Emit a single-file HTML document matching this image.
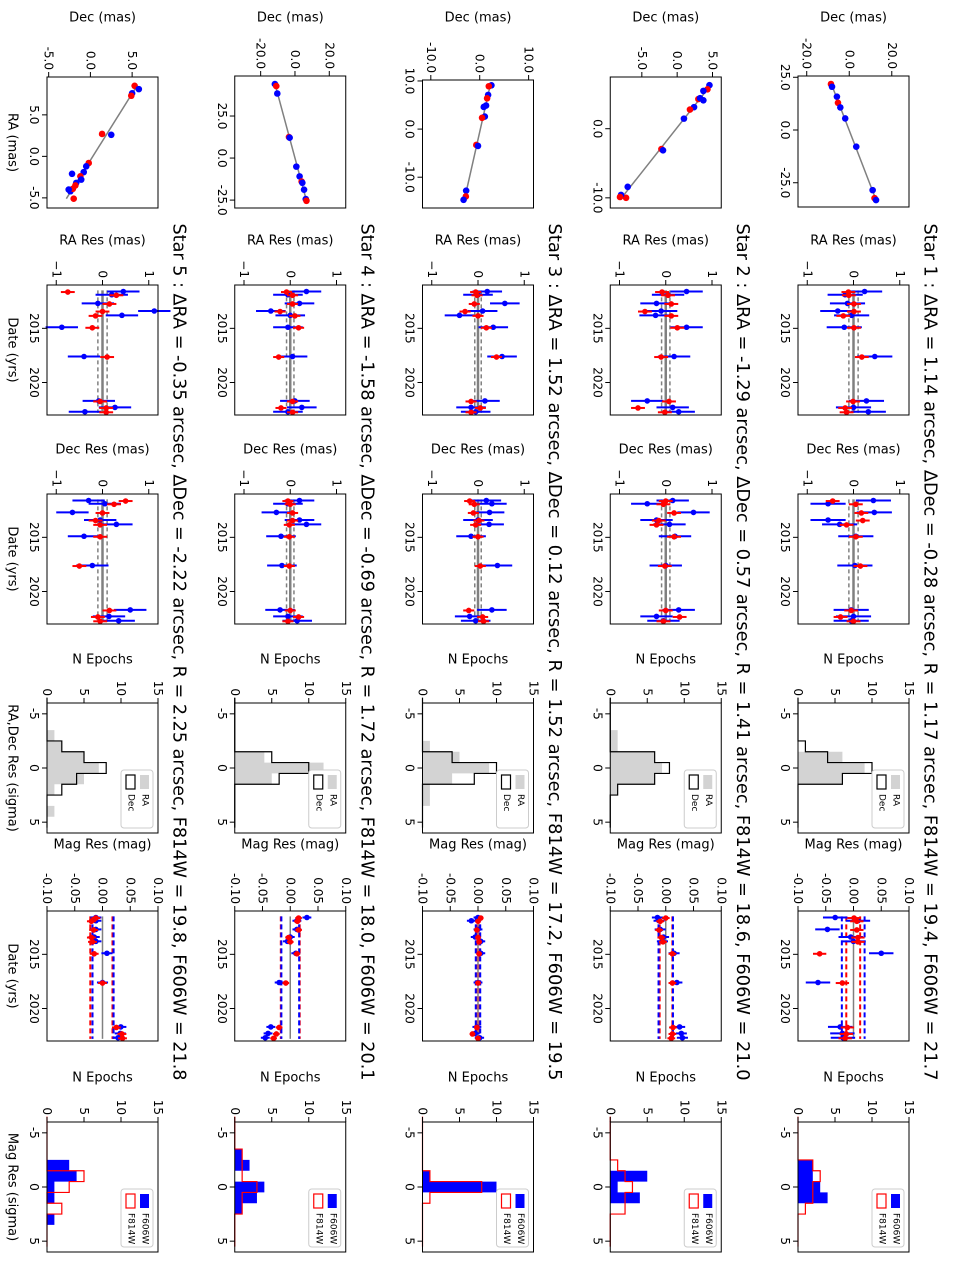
<!DOCTYPE html>
<html><head><meta charset="utf-8">
<style>
body{margin:0;background:#fff}
svg{display:block;font-family:"DejaVu Sans","Liberation Sans",sans-serif}
</style></head>
<body>
<svg id="fig" width="957" height="1276" viewBox="0 0 957 1276">
<rect width="957" height="1276" fill="#fff"/>
<g id="root" transform="translate(957,0) rotate(90)"></g>
</svg>
<script>
// ---------- shared data ----------
const epochs = [2011.6, 2011.9, 2012.7, 2013.4, 2013.8, 2014.9, 2017.6, 2021.7, 2022.3, 2022.7];
const histCenters = [-6,-5,-4,-3,-2,-1,0,1,2,3,4,5];
const titles = [
 "Star 1 : \u0394RA = 1.14 arcsec, \u0394Dec = -0.28 arcsec, R = 1.17 arcsec, F814W = 19.4, F606W = 21.7",
 "Star 2 : \u0394RA = -1.29 arcsec, \u0394Dec = 0.57 arcsec, R = 1.41 arcsec, F814W = 18.6, F606W = 21.0",
 "Star 3 : \u0394RA = 1.52 arcsec, \u0394Dec = 0.12 arcsec, R = 1.52 arcsec, F814W = 17.2, F606W = 19.5",
 "Star 4 : \u0394RA = -1.58 arcsec, \u0394Dec = -0.69 arcsec, R = 1.72 arcsec, F814W = 18.0, F606W = 20.1",
 "Star 5 : \u0394RA = -0.35 arcsec, \u0394Dec = -2.22 arcsec, R = 2.25 arcsec, F814W = 19.8, F606W = 21.8"
];
// ---------- star 1 ----------
const s1PosRa  = [21.8,20.5,15.8,12.9,10.7,5.5,-7.9,-28.5,-32.3,-33.2];
const s1PosDec = [-8.6,-8.1,-5.8,-5.3,-4.2,-1.9,3.3,11.0,11.9,12.6];
const s1PosCol = ['r','b','b','r','b','b','b','b','r','b'];
const s1RaLim = [25.6,-36.5], s1DecLim = [-24.1,28.1];
const s1RaTicks = [25,0,-25], s1DecTicks = [-20,0,20];
const s1RaResB = [0.24,-0.18,-0.13,-0.34,-0.04,-0.2,0.46,0.28,0.0,0.32];
const s1RaResR = [-0.11,-0.1,0.01,0.01,-0.22,0.01,0.18,-0.01,-0.18,-0.15];
const s1DecResB = [0.43,-0.55,0.45,-0.55,-0.3,0.05,0.03,-0.05,0.0,-0.05];
const s1DecResR = [-0.45,0.05,0.17,0.2,-0.15,0.05,0.15,-0.05,-0.28,0.0];
const s1HistRa  = [0,0,0,0,0,6,9,6,0,0,0,0];
const s1HistDec = [0,0,0,0,1,4,10,6,0,0,0,0];
const s1MagB = [-0.033,0.008,-0.047,-0.005,0.0,0.05,-0.064,-0.024,-0.02,-0.019];
const s1MagR = [0.001,0.006,0.006,0.008,0.008,-0.061,-0.02,-0.011,-0.013,-0.015];
const s1MagBandB = [-0.021,0.02], s1MagBandR = [-0.013,0.012];
const s1MagHistB = [0,0,0,0,2,2,3,4,0,0,0,0];
const s1MagHistR = [0,0,0,0,2,3,2,2,1,0,0,0];
// ---------- star 2 ----------
const s2PosRa  = [6.3,5.7,5.47,4.29,4.41,4.11,3.12,2.77,1.46,-2.94,-3.12,-8.41,-10.0,-9.58,-9.88];
const s2PosDec = [4.57,4.29,3.71,3.0,3.24,3.71,2.39,1.81,0.96,-2.23,-2.0,-7.0,-7.23,-7.94,-8.09];
const s2PosCol = ['b','r','b','r','b','b','b','r','b','r','b','b','r','b','r'];
const s2RaLim = [7.48,-11.47], s2DecLim = [-9.47,6.24];
const s2RaTicks = [0,-10], s2DecTicks = [-5,0,5];
const s2RaResB = [0.45,0.05,-0.2,-0.1,-0.22,0.45,0.18,-0.4,0.15,0.28];
const s2RaResR = [-0.08,0.05,0.12,-0.45,0.12,0.25,-0.1,0.07,-0.6,-0.02];
const s2DecResB = [0.15,-0.4,0.6,-0.2,0.08,0.2,0.0,0.28,-0.2,-0.05];
const s2DecResR = [0.0,-0.05,0.18,-0.15,-0.2,0.18,-0.02,0.0,0.3,-0.05];
const s2HistRa  = [0,0,0,1,1,6,7,6,1,0,0,0];
const s2HistDec = [0,0,0,0,0,6,8,6,1,0,0,0];
const s2MagB = [-0.015,-0.012,-0.01,-0.004,-0.006,0.015,0.02,0.025,0.028,0.03];
const s2MagR = [0.0,-0.01,-0.012,-0.008,-0.005,0.012,0.012,0.013,0.012,0.01];
const s2MagBandB = [-0.013,0.013], s2MagBandR = [-0.011,0.012];
const s2MagHistB = [0,0,0,0,0,5,1,4,0,0,0,0];
const s2MagHistR = [0,0,0,0,1,2,3,2,2,0,0,0];
// ---------- star 3 ----------
const s3PosRa  = [9.1,8.9,7.1,6.4,4.9,4.6,2.6,2.35,-3.3,-3.5,-12.8,-14.0,-14.7];
const s3PosDec = [2.4,1.86,1.72,1.51,1.3,0.83,1.04,0.48,-0.7,-0.35,-2.77,-2.84,-3.3];
const s3PosCol = ['b','r','b','r','b','b','b','r','r','b','b','r','b'];
const s3RaLim = [10.2,-16.4], s3DecLim = [-11.7,11.0];
const s3RaTicks = [10,0,-10], s3DecTicks = [-10,0,10];
const s3RaResB = [0.2,0.0,0.58,0.1,-0.4,0.33,0.52,0.15,-0.15,-0.05];
const s3RaResR = [-0.05,-0.02,-0.08,-0.28,0.0,0.18,0.4,-0.15,0.05,-0.15];
const s3DecResB = [0.18,0.3,0.25,0.0,0.24,-0.15,0.42,0.3,-0.18,-0.05];
const s3DecResR = [-0.18,-0.08,-0.1,0.02,-0.05,0.0,0.05,-0.2,0.1,0.12];
const s3HistRa  = [0,0,0,0,1,5,9,4,1,1,0,0];
const s3HistDec = [0,0,0,0,0,4,10,7,0,0,0,0];
const s3MagB = [0.0,-0.012,0.0,-0.005,0.005,0.005,0.0,-0.002,-0.005,0.003];
const s3MagR = [0.005,0.0,-0.002,0.0,0.002,0.002,0.0,-0.002,-0.01,0.0];
const s3MagBandB = [-0.004,0.004], s3MagBandR = [-0.003,0.003];
const s3MagHistB = [0,0,0,0,0,1,10,0,0,0,0,0];
const s3MagHistR = [0,0,0,0,0,1,8,1,0,0,0,0];
// ---------- star 4 ----------
const s4PosRa  = [44,42.8,38.4,12.5,12.1,-5.1,-10.9,-14,-14.7,-18.8,-24.4,-25.4];
const s4PosDec = [-11.7,-10.9,-10.3,-3.5,-3.1,0.8,2.7,3.9,4.3,5.3,6.3,6.7];
const s4PosCol = ['b','r','b','r','b','b','b','r','b','b','b','r'];
const s4RaLim = [48.8,-29.7], s4DecLim = [-35.1,29.6];
const s4RaTicks = [25,0,-25], s4DecTicks = [-20,0,20];
const s4RaResB = [0.35,-0.05,0.2,-0.42,0.0,-0.05,0.05,0.1,0.25,-0.05];
const s4RaResR = [-0.08,0.05,0.05,-0.22,0.1,0.18,-0.25,0.05,-0.2,0.05];
const s4DecResB = [0.2,-0.05,-0.3,0.2,0.35,-0.2,-0.18,-0.22,-0.05,0.15];
const s4DecResR = [-0.05,0.0,0.05,0.05,-0.02,-0.02,-0.02,0.0,0.18,-0.05];
const s4HistRa  = [0,0,0,0,0,4,12,5,0,0,0,0];
const s4HistDec = [0,0,0,0,0,5,10,6,0,0,0,0];
const s4MagB = [0.03,0.012,0.012,0.0,-0.005,0.01,-0.02,-0.035,-0.04,-0.045];
const s4MagR = [0.015,0.013,0.015,-0.003,0.0,0.012,-0.008,-0.02,-0.025,-0.03];
const s4MagBandB = [-0.016,0.016], s4MagBandR = [-0.017,0.017];
const s4MagHistB = [0,0,0,1,2,0,4,3,1,0,0,0];
const s4MagHistR = [0,0,0,1,1,1,3,1,1,0,0,0];
// ---------- star 5 ----------
const s5PosRa  = [8.5,8.1,7.6,7.3,2.7,2.6,-0.8,-1.2,-1.9,-2.4,-2.8,-3.2,-2.1,-3.5,-4.2,-3.9,-4.0,-5.1];
const s5PosDec = [5.3,5.8,5.0,4.9,1.4,2.5,-0.2,-0.5,-0.8,-1.2,-1.1,-1.7,-2.2,-1.8,-2.4,-2.1,-2.6,-2.0];
const s5PosCol = ['r','b','b','r','r','b','r','b','b','r','b','b','b','r','b','r','b','r'];
const s5RaLim = [9.56,-6.22], s5DecLim = [-5.2,8.1];
const s5RaTicks = [5,0,-5], s5DecTicks = [-5,0,5];
const s5RaResB = [0.45,0.2,-0.1,1.12,0.42,-0.88,-0.4,-0.08,0.27,-0.38];
const s5RaResR = [-0.75,0.3,0.15,0.0,-0.15,-0.22,0.1,-0.05,0.08,0.08];
const s5DecResB = [-0.3,0.05,-0.65,-0.05,0.3,-0.4,-0.22,0.6,0.14,0.35];
const s5DecResR = [0.5,0.25,0.0,-0.15,-0.05,-0.05,-0.5,0.15,-0.1,-0.05];
const s5HistRa  = [0,0,0,1,2,5,7,5,1,0,1,0];
const s5HistDec = [0,0,0,0,2,5,8,4,2,0,0,0];
const s5MagB = [-0.012,-0.012,-0.012,-0.015,-0.012,0.008,0.0,0.033,0.032,0.028];
const s5MagR = [-0.012,-0.02,-0.016,-0.02,-0.018,-0.015,0.0,0.025,0.035,0.036];
const s5MagBandB = [-0.018,0.02], s5MagBandR = [-0.022,0.018];
const s5MagHistB = [0,0,0,0,3,4,1,1,0,1,0,0];
const s5MagHistR = [0,0,0,0,0,5,3,0,2,0,0,0];
// error sizes per star
const resErrB = [0.38,0.35,0.32,0.32,0.35];
const resErrR = [0.15,0.15,0.12,0.12,0.15];
const magErrB = [0.022,0.01,0.008,0.008,0.01];
const magErrR = [0.012,0.007,0.005,0.006,0.008];
const resBand = [0.1,0.09,0.07,0.08,0.1];

const S = [
 {pr:s1PosRa,pd:s1PosDec,pc:s1PosCol,rl:s1RaLim,dl:s1DecLim,rt:s1RaTicks,dt:s1DecTicks,rb:s1RaResB,rr:s1RaResR,db:s1DecResB,dr:s1DecResR,ha:s1HistRa,hd:s1HistDec,mb:s1MagB,mr:s1MagR,bb:s1MagBandB,br:s1MagBandR,hb:s1MagHistB,hr:s1MagHistR},
 {pr:s2PosRa,pd:s2PosDec,pc:s2PosCol,rl:s2RaLim,dl:s2DecLim,rt:s2RaTicks,dt:s2DecTicks,rb:s2RaResB,rr:s2RaResR,db:s2DecResB,dr:s2DecResR,ha:s2HistRa,hd:s2HistDec,mb:s2MagB,mr:s2MagR,bb:s2MagBandB,br:s2MagBandR,hb:s2MagHistB,hr:s2MagHistR},
 {pr:s3PosRa,pd:s3PosDec,pc:s3PosCol,rl:s3RaLim,dl:s3DecLim,rt:s3RaTicks,dt:s3DecTicks,rb:s3RaResB,rr:s3RaResR,db:s3DecResB,dr:s3DecResR,ha:s3HistRa,hd:s3HistDec,mb:s3MagB,mr:s3MagR,bb:s3MagBandB,br:s3MagBandR,hb:s3MagHistB,hr:s3MagHistR},
 {pr:s4PosRa,pd:s4PosDec,pc:s4PosCol,rl:s4RaLim,dl:s4DecLim,rt:s4RaTicks,dt:s4DecTicks,rb:s4RaResB,rr:s4RaResR,db:s4DecResB,dr:s4DecResR,ha:s4HistRa,hd:s4HistDec,mb:s4MagB,mr:s4MagR,bb:s4MagBandB,br:s4MagBandR,hb:s4MagHistB,hr:s4MagHistR},
 {pr:s5PosRa,pd:s5PosDec,pc:s5PosCol,rl:s5RaLim,dl:s5DecLim,rt:s5RaTicks,dt:s5DecTicks,rb:s5RaResB,rr:s5RaResR,db:s5DecResB,dr:s5DecResR,ha:s5HistRa,hd:s5HistDec,mb:s5MagB,mr:s5MagR,bb:s5MagBandB,br:s5MagBandR,hb:s5MagHistB,hr:s5MagHistR}
];

// ---------- layout (not data) ----------
const P1U = [[76,207],[77,208],[80,208],[76,208],[77,208]];
const PU = {ra:[285,415], dec:[494,624], hist:[703,833], mag:[911,1041], mhist:[1122,1252]};
const DATE_LIM = [2011, 2023], RES_LIM = [-1.2, 1.2], HIST_X = [-6, 6], HIST_Y = [0, 15], MAG_LIM = [-0.1, 0.1];
const BLUE = '#0000ff', RED = '#ff0000';

const NS = 'http://www.w3.org/2000/svg';
const root = document.getElementById('root');
function mk(tag, parent){ const e = document.createElementNS(NS, tag); parent.appendChild(e); return e; }
function at(e, o){ for (const k in o) e.setAttribute(k, o[k]); return e; }
function txt(parent, x, y, s, size, anchor, rot){
  const t = mk('text', parent);
  at(t, {x:x, y:y, 'font-size':size, 'text-anchor':anchor||'middle', 'dominant-baseline':'central', fill:'#000'});
  if (rot) t.setAttribute('transform', 'rotate(' + rot + ' ' + x + ' ' + y + ')');
  t.textContent = s;
  return t;
}
function axes(u0,u1,v0,v1,xl,yl){
  return {
    x: v => u0 + (v - xl[0]) / (xl[1] - xl[0]) * (u1 - u0),
    y: v => v1 - (v - yl[0]) / (yl[1] - yl[0]) * (v1 - v0)
  };
}
function frame(g,u0,u1,v0,v1){
  const r = mk('rect', g);
  at(r, {x:u0, y:v0, width:u1-u0, height:v1-v0, fill:'none', stroke:'#000', 'stroke-width':1});
  
  
}
function xticks(g, ax, vals, labs, v1){
  vals.forEach((v,i) => {
    const x = ax.x(v);
    const l = mk('line', g);
    at(l, {x1:x, x2:x, y1:v1, y2:v1+5, stroke:'#000', 'stroke-width':1});
    
    
    const t = txt(g, x, v1+13, labs[i], 12);
    
    
  });
}
function yticks(g, ax, vals, labs, u0){
  vals.forEach((v,i) => {
    const y = ax.y(v);
    const l = mk('line', g);
    at(l, {x1:u0-5, x2:u0, y1:y, y2:y, stroke:'#000', 'stroke-width':1});
    
    
    const t = txt(g, u0-7, y, labs[i], 12, 'end');
    
    
  });
}
function ylabel(g, u, v, s){
  const t = txt(g, u, v, s, 13, 'middle', -90);
  
  
}
function xlabel(g, u, v, s){
  const t = txt(g, u, v, s, 13, 'middle');
  
  
}
function errPoint(g, ax, xv, yv, err, col, name){
  const l = mk('line', g);
  at(l, {x1:ax.x(xv), x2:ax.x(xv), y1:ax.y(yv-err), y2:ax.y(yv+err), stroke:col, 'stroke-width':2});
  
  
  const c = mk('circle', g);
  at(c, {cx:ax.x(xv), cy:ax.y(yv), r:2.8, fill:col});
  
  
}
function hline(g, ax, x0, x1, yv, col, w, dash, name){
  const l = mk('line', g);
  at(l, {x1:ax.x(x0), x2:ax.x(x1), y1:ax.y(yv), y2:ax.y(yv), stroke:col, 'stroke-width':w});
  if (dash) l.setAttribute('stroke-dasharray', dash);
  
  
}
function histPath(ax, counts){
  let d = 'M' + ax.x(histCenters[0]-0.5) + ' ' + ax.y(0);
  counts.forEach((c,i) => {
    d += ' L' + ax.x(histCenters[i]-0.5) + ' ' + ax.y(c) + ' L' + ax.x(histCenters[i]+0.5) + ' ' + ax.y(c);
  });
  d += ' L' + ax.x(histCenters[histCenters.length-1]+0.5) + ' ' + ax.y(0);
  return d;
}
function legend(g, u0, v0, labs, kinds){
  const b = mk('rect', g);
  at(b, {x:u0+67, y:v0+5, width:58, height:32, rx:3, fill:'#fff', stroke:'#ccc', 'stroke-width':1});
  
  
  labs.forEach((s,i) => {
    const vy = v0 + 9 + i*14;
    const r = mk('rect', g);
    if (kinds[i] === 'grayfill') at(r, {x:u0+72, y:vy, width:14, height:9, fill:'#d3d3d3'});
    else if (kinds[i] === 'blackline') at(r, {x:u0+72, y:vy, width:14, height:9, fill:'none', stroke:'#000', 'stroke-width':1.2});
    else if (kinds[i] === 'bluefill') at(r, {x:u0+72, y:vy, width:14, height:9, fill:BLUE});
    else at(r, {x:u0+72, y:vy, width:14, height:9, fill:'none', stroke:RED, 'stroke-width':1.2});
    
    
    const t = txt(g, u0+91, vy+4.5, s, 9, 'start');
    
    
  });
}
function fmt1(v){ return v.toFixed(1); }
function fmtRes(v){ return v < 0 ? '\u2212' + Math.abs(v) : String(v); }

S.forEach((s, k) => {
  const g = mk('g', root);
  
  
  const v0 = 48 + 187.75*k, v1 = v0 + 111, vm = (v0+v1)/2;
  const last = (k === 4);

  const tt = txt(g, 652, 27 + 187.75*k, titles[k], 18, 'middle');
  tt.setAttribute('textLength', 857);
  tt.setAttribute('lengthAdjust', 'spacingAndGlyphs');
  
  

  // ---- panel 1: sky positions ----
  {
    const pg = mk('g', g);
    
    
    const [u0,u1] = P1U[k];
    const ax = axes(u0,u1,v0,v1,s.rl,s.dl);
    // least-squares line
    const n = s.pr.length; let mx=0,my=0; s.pr.forEach((x,i)=>{mx+=x;my+=s.pd[i];}); mx/=n; my/=n;
    let sxy=0,sxx=0; s.pr.forEach((x,i)=>{sxy+=(x-mx)*(s.pd[i]-my); sxx+=(x-mx)*(x-mx);});
    const sl = sxy/sxx, xa = Math.max(...s.pr), xb = Math.min(...s.pr);
    const l = mk('line', pg);
    at(l, {x1:ax.x(xa), y1:ax.y(my+sl*(xa-mx)), x2:ax.x(xb), y2:ax.y(my+sl*(xb-mx)), stroke:'#808080', 'stroke-width':1.5});
    
    
    s.pr.forEach((ra,i) => {
      const c = mk('circle', pg);
      at(c, {cx:ax.x(ra), cy:ax.y(s.pd[i]), r:3.3, fill: s.pc[i]==='b'?BLUE:RED});
      
      
    });
    frame(pg,u0,u1,v0,v1);
    xticks(pg, ax, s.rt, s.rt.map(fmt1), v1);
    yticks(pg, ax, s.dt, s.dt.map(fmt1), u0);
    ylabel(pg, 18, vm, 'Dec (mas)');
    if (last) xlabel(pg, (u0+u1)/2, 945, 'RA (mas)');
  }

  // ---- panels 2/3: residuals ----
  [['ra', s.rb, s.rr, 'RA Res (mas)'], ['dec', s.db, s.dr, 'Dec Res (mas)']].forEach(([key, vb, vr, lab]) => {
    const pg = mk('g', g);
    
    
    const [u0,u1] = PU[key];
    const ax = axes(u0,u1,v0,v1,DATE_LIM,RES_LIM);
    const e0 = epochs[0] - 0.1, e1 = epochs[epochs.length-1] + 0.1;
    hline(pg, ax, e0, e1, 0, '#808080', 2.5, null, 'zero-line');
    hline(pg, ax, e0, e1, -resBand[k], '#808080', 1.5, '4,3', 'residual-band-lower');
    hline(pg, ax, e0, e1, resBand[k], '#808080', 1.5, '4,3', 'residual-band-upper');
    epochs.forEach((d,i) => errPoint(pg, ax, d, vb[i], resErrB[k], BLUE, 'f606w-residual'));
    epochs.forEach((d,i) => errPoint(pg, ax, d+0.05, vr[i], resErrR[k], RED, 'f814w-residual'));
    frame(pg,u0,u1,v0,v1);
    xticks(pg, ax, [2015,2020], ['2015','2020'], v1);
    yticks(pg, ax, [-1,0,1], [-1,0,1].map(fmtRes), u0);
    ylabel(pg, u0-44, vm, lab);
    if (last) xlabel(pg, (u0+u1)/2, 945, 'Date (yrs)');
  });

  // ---- panel 4: astrometric histogram ----
  {
    const pg = mk('g', g);
    
    
    const [u0,u1] = PU.hist;
    const ax = axes(u0,u1,v0,v1,HIST_X,HIST_Y);
    const pf = mk('path', pg);
    at(pf, {d: histPath(ax, s.ha) + ' Z', fill:'#d3d3d3', stroke:'none'});
    
    
    const pl = mk('path', pg);
    at(pl, {d: histPath(ax, s.hd), fill:'none', stroke:'#000', 'stroke-width':1.2});
    
    
    legend(pg, u0, v0, ['RA','Dec'], ['grayfill','blackline']);
    frame(pg,u0,u1,v0,v1);
    xticks(pg, ax, [-5,0,5], ['-5','0','5'], v1);
    yticks(pg, ax, [0,5,10,15], ['0','5','10','15'], u0);
    ylabel(pg, u0-43, vm, 'N Epochs');
    if (last) xlabel(pg, (u0+u1)/2, 945, 'RA,Dec Res (sigma)');
  }

  // ---- panel 5: magnitude residuals ----
  {
    const pg = mk('g', g);
    
    
    const [u0,u1] = PU.mag;
    const ax = axes(u0,u1,v0,v1,DATE_LIM,MAG_LIM);
    const e0 = epochs[0] - 0.1, e1 = epochs[epochs.length-1] + 0.1;
    hline(pg, ax, e0, e1, 0, '#808080', 1.5, null, 'mag-zero-line');
    hline(pg, ax, e0, e1, s.br[0], RED, 2, '5,3', 'f814w-band-lower');
    hline(pg, ax, e0, e1, s.br[1], RED, 2, '5,3', 'f814w-band-upper');
    hline(pg, ax, e0, e1, s.bb[0], BLUE, 2, '5,3', 'f606w-band-lower');
    hline(pg, ax, e0, e1, s.bb[1], BLUE, 2, '5,3', 'f606w-band-upper');
    epochs.forEach((d,i) => errPoint(pg, ax, d, s.mb[i], magErrB[k], BLUE, 'f606w-mag'));
    epochs.forEach((d,i) => errPoint(pg, ax, d+0.05, s.mr[i], magErrR[k], RED, 'f814w-mag'));
    frame(pg,u0,u1,v0,v1);
    xticks(pg, ax, [2015,2020], ['2015','2020'], v1);
    const mt = [-0.1,-0.05,0,0.05,0.1];
    yticks(pg, ax, mt, mt.map(v => v.toFixed(2)), u0);
    ylabel(pg, u0-66, vm, 'Mag Res (mag)');
    if (last) xlabel(pg, (u0+u1)/2, 945, 'Date (yrs)');
  }

  // ---- panel 6: magnitude histogram ----
  {
    const pg = mk('g', g);
    
    
    const [u0,u1] = PU.mhist;
    const ax = axes(u0,u1,v0,v1,HIST_X,HIST_Y);
    const pf = mk('path', pg);
    at(pf, {d: histPath(ax, s.hb) + ' Z', fill:BLUE, stroke:'none'});
    
    
    const pl = mk('path', pg);
    at(pl, {d: histPath(ax, s.hr), fill:'none', stroke:RED, 'stroke-width':1.2});
    
    
    legend(pg, u0, v0, ['F606W','F814W'], ['bluefill','redline']);
    frame(pg,u0,u1,v0,v1);
    xticks(pg, ax, [-5,0,5], ['-5','0','5'], v1);
    yticks(pg, ax, [0,5,10,15], ['0','5','10','15'], u0);
    ylabel(pg, u0-44, vm, 'N Epochs');
    if (last) xlabel(pg, (u0+u1)/2, 945, 'Mag Res (sigma)');
  }
});
</script>
</body></html>
